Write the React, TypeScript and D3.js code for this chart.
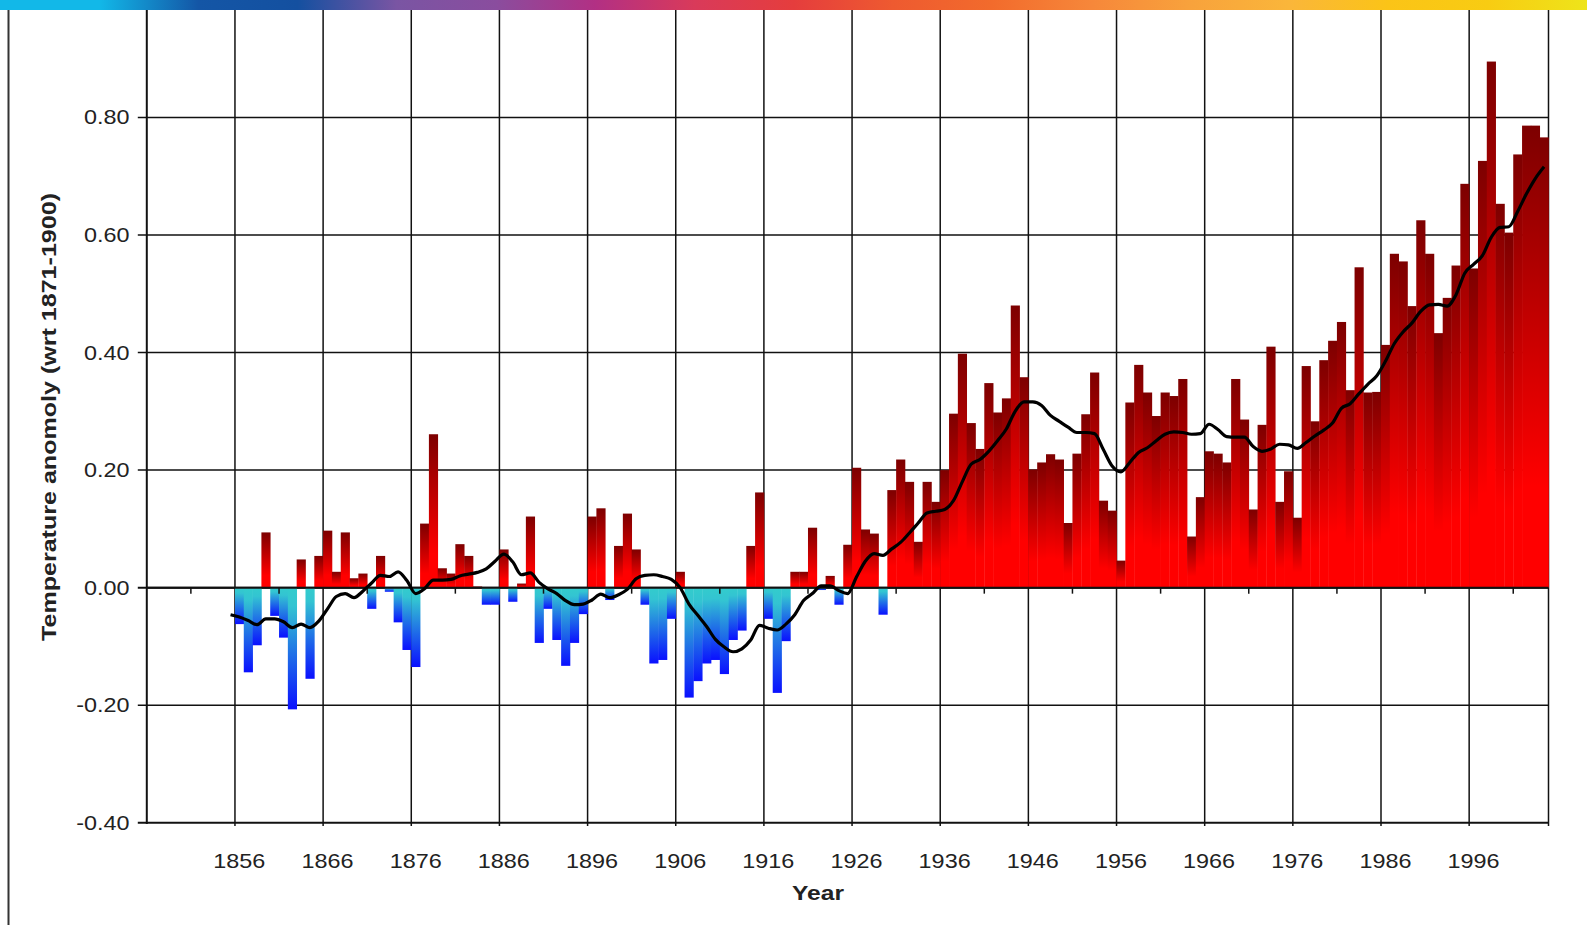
import React from 'react';
import * as d3 from 'd3';

// global temperature anomaly, yearly bars
const firstCategory = 1846;
const lastCategory = 2004;
const barStartYear = 1856;
const anomalies = [
  -0.062, -0.144, -0.098, 0.094, -0.048, -0.085, -0.207, 0.048, -0.155, 0.054, // 1856-1865
  0.097, 0.027, 0.094, 0.016, 0.024, -0.036, 0.054, -0.007, -0.059, -0.106, // 1866-1875
  -0.135, 0.109, 0.261, 0.033, 0.024, 0.074, 0.054, 0.002, -0.029, -0.029, // 1876-1885
  0.065, -0.024, 0.007, 0.121, -0.094, -0.036, -0.089, -0.133, -0.094, -0.045, // 1886-1895
  0.121, 0.135, -0.021, 0.071, 0.126, 0.065, -0.029, -0.129, -0.123, -0.053, // 1896-1905
  0.027, -0.187, -0.159, -0.129, -0.123, -0.147, -0.089, -0.073, 0.071, 0.162, // 1906-1915
  -0.053, -0.179, -0.091, 0.027, 0.027, 0.102, -0.004, 0.02, -0.029, 0.073, // 1916-1925
  0.204, 0.099, 0.092, -0.046, 0.166, 0.218, 0.18, 0.078, 0.18, 0.146, // 1926-1935
  0.2, 0.296, 0.398, 0.28, 0.236, 0.348, 0.298, 0.322, 0.48, 0.358, // 1936-1945
  0.201, 0.213, 0.227, 0.218, 0.11, 0.228, 0.295, 0.366, 0.148, 0.131, // 1946-1955
  0.046, 0.315, 0.379, 0.332, 0.292, 0.332, 0.326, 0.355, 0.087, 0.154, // 1956-1965
  0.232, 0.228, 0.213, 0.355, 0.286, 0.133, 0.277, 0.41, 0.146, 0.198, // 1966-1975
  0.119, 0.377, 0.283, 0.387, 0.42, 0.452, 0.336, 0.545, 0.332, 0.333, // 1976-1985
  0.413, 0.568, 0.555, 0.479, 0.625, 0.568, 0.433, 0.493, 0.548, 0.687, // 1986-1995
  0.543, 0.726, 0.895, 0.653, 0.604, 0.737, 0.786, 0.786, 0.766, // 1996-2004
];

// smoothed curve
const smoothStartYear = 1855;
const smoothed = [
  -0.046, // 1855
  -0.05, -0.056, -0.063, -0.053, -0.053, -0.058, -0.068, -0.062, -0.068, -0.057,
  -0.036, -0.015, -0.01, -0.017, -0.006, 0.008, 0.021, 0.019, 0.027, 0.012,
  -0.01, -0.002, 0.013, 0.013, 0.014, 0.02, 0.023, 0.026, 0.032, 0.045,
  0.057, 0.044, 0.022, 0.025, 0.009, -0.002, -0.01, -0.022, -0.029, -0.028,
  -0.021, -0.011, -0.017, -0.012, -0.003, 0.015, 0.021, 0.022, 0.019, 0.014,
  0.0, -0.028, -0.047, -0.066, -0.088, -0.101, -0.109, -0.104, -0.089, -0.064,
  -0.069, -0.072, -0.062, -0.046, -0.022, -0.01, 0.003, 0.003, -0.005, -0.01,
  0.018, 0.045, 0.058, 0.055, 0.066, 0.077, 0.093, 0.11, 0.127, 0.13,
  0.133, 0.148, 0.18, 0.21, 0.218, 0.232, 0.25, 0.27, 0.3, 0.316,
  0.316, 0.31, 0.293, 0.283, 0.273, 0.264, 0.264, 0.262, 0.235, 0.207,
  0.197, 0.213, 0.23, 0.238, 0.25, 0.261, 0.265, 0.264, 0.261, 0.262,
  0.278, 0.269, 0.257, 0.256, 0.256, 0.24, 0.232, 0.236, 0.244, 0.243,
  0.237, 0.247, 0.258, 0.268, 0.28, 0.305, 0.313, 0.33, 0.346, 0.36,
  0.385, 0.415, 0.435, 0.45, 0.47, 0.481, 0.482, 0.479, 0.498, 0.535,
  0.55, 0.565, 0.596, 0.613, 0.614, 0.64, 0.67, 0.696, 0.716,
];

const yTicks = [-0.4, -0.2, 0, 0.2, 0.4, 0.6, 0.8];
const labelYears = [1856, 1866, 1876, 1886, 1896, 1906, 1916, 1926, 1936, 1946, 1956, 1966, 1976, 1986, 1996];
const minorTickYears = [1851, 1861, 1871, 1881, 1891, 1901, 1911, 1921, 1931, 1941, 1951, 1961, 1971, 1981, 1991, 2001];
const stripColors = ['#12b8e8', '#12b8e8', '#1456a6', '#1450a0', '#7a55a3', '#8a4d9e', '#b23084', '#d93a5a', '#e53d3d', '#ee5a30', '#f26b2c', '#f6873a', '#f8a23c', '#fab63a', '#fbc417', '#f8cc12', '#eee41a'];

const W = 1587;
const H = 925;
const plotLeft = 146.8;
const plotRight = 1548.5;
const fontFamily = '"Liberation Sans", Arial, sans-serif';

export default function App() {
  const years = d3.range(firstCategory, lastCategory + 1);
  const x = d3.scaleBand<number>().domain(years).range([plotLeft, plotRight]).padding(0);
  const y = d3.scaleLinear().domain([-0.4, 0.8]).range([822.8, 117.4]);
  const bw = x.bandwidth();

  const bars = anomalies.map((v, i) => ({ year: barStartYear + i, v }));
  const line = d3
    .line<number>()
    .x((_, i) => (x(smoothStartYear + i) as number) + bw / 2)
    .y((v) => y(v))
    .curve(d3.curveMonotoneX);

  const stretch = 'scale(1.17,1)';

  return (
    <svg width={W} height={H} style={{ position: 'absolute', left: 0, top: 0, background: '#fff' }}>
      <defs>
        <linearGradient id="pos" x1="0" y1="0" x2="0" y2="1">
          <stop offset="0" stopColor="#7d0000" />
          <stop offset="0.78" stopColor="#ff0000" />
          <stop offset="1" stopColor="#ff0000" />
        </linearGradient>
        <linearGradient id="neg" x1="0" y1="0" x2="0" y2="1">
          <stop offset="0" stopColor="#33cccc" />
          <stop offset="0.15" stopColor="#33c4d2" />
          <stop offset="1" stopColor="#0a10ff" />
        </linearGradient>
        <linearGradient id="strip" x1="0" y1="0" x2="1" y2="0">
          {stripColors.map((c, i) => (
            <stop key={i} offset={i / (stripColors.length - 1)} stopColor={c} />
          ))}
        </linearGradient>
      </defs>

      <rect x={0} y={0} width={W} height={H} fill="#fff" />

      {/* left frame */}
      <line x1={8.5} x2={8.5} y1={10} y2={H} stroke="#333" strokeWidth={2} />

      {/* horizontal gridlines */}
      {yTicks.map((t) => (
        <line key={t} x1={plotLeft - 9} x2={plotRight} y1={y(t)} y2={y(t)} stroke="#111" strokeWidth={t === 0 || t === -0.4 ? 2 : 1.5} />
      ))}

      {/* vertical gridlines */}
      {labelYears.map((yr) => (
        <line key={yr} x1={x(yr)} x2={x(yr)} y1={0} y2={826} stroke="#111" strokeWidth={1.5} />
      ))}
      <line x1={plotLeft} x2={plotLeft} y1={0} y2={824} stroke="#111" strokeWidth={2} />
      <line x1={plotRight} x2={plotRight} y1={0} y2={826} stroke="#111" strokeWidth={1.5} />

      {/* bars */}
      {bars.map((d) => {
        const y0 = y(0);
        const yv = y(d.v);
        return (
          <rect
            key={d.year}
            x={x(d.year)}
            y={Math.min(y0, yv)}
            width={bw + 0.35}
            height={Math.max(0.8, Math.abs(yv - y0))}
            fill={d.v >= 0 ? 'url(#pos)' : 'url(#neg)'}
          />
        );
      })}

      {/* zero axis and its ticks */}
      <line x1={plotLeft} x2={plotRight} y1={y(0)} y2={y(0)} stroke="#111" strokeWidth={2} />
      {minorTickYears.map((yr) => (
        <line key={yr} x1={x(yr)} x2={x(yr)} y1={y(0)} y2={y(0) + 6} stroke="#111" strokeWidth={1.5} />
      ))}

      {/* smoothed curve */}
      <path d={line(smoothed) || ''} fill="none" stroke="#000" strokeWidth={3.2} strokeLinejoin="round" />

      {/* y tick labels */}
      {yTicks.map((t) => (
        <text
          key={t}
          transform={`translate(129.5, ${y(t) + 7}) ${stretch}`}
          textAnchor="end"
          fontFamily={fontFamily}
          fontSize={20}
          fill="#222"
        >
          {t.toFixed(2)}
        </text>
      ))}

      {/* x tick labels */}
      {labelYears.map((yr) => (
        <text
          key={yr}
          transform={`translate(${(x(yr) as number) + bw / 2}, 868) ${stretch}`}
          textAnchor="middle"
          fontFamily={fontFamily}
          fontSize={20}
          fill="#222"
        >
          {yr}
        </text>
      ))}

      {/* axis titles */}
      <text
        transform={`translate(818, 900) ${stretch}`}
        textAnchor="middle"
        fontFamily={fontFamily}
        fontSize={21}
        fontWeight="bold"
        fill="#222"
      >
        Year
      </text>
      <text
        transform="translate(56, 417) rotate(-90)"
        textAnchor="middle"
        fontFamily={fontFamily}
        fontSize={21}
        fontWeight="bold"
        fill="#222"
        textLength={448}
        lengthAdjust="spacingAndGlyphs"
      >
        Temperature anomoly (wrt 1871-1900)
      </text>

      {/* decorative rainbow strip */}
      <rect x={0} y={0} width={W} height={10} fill="url(#strip)" />
    </svg>
  );
}
